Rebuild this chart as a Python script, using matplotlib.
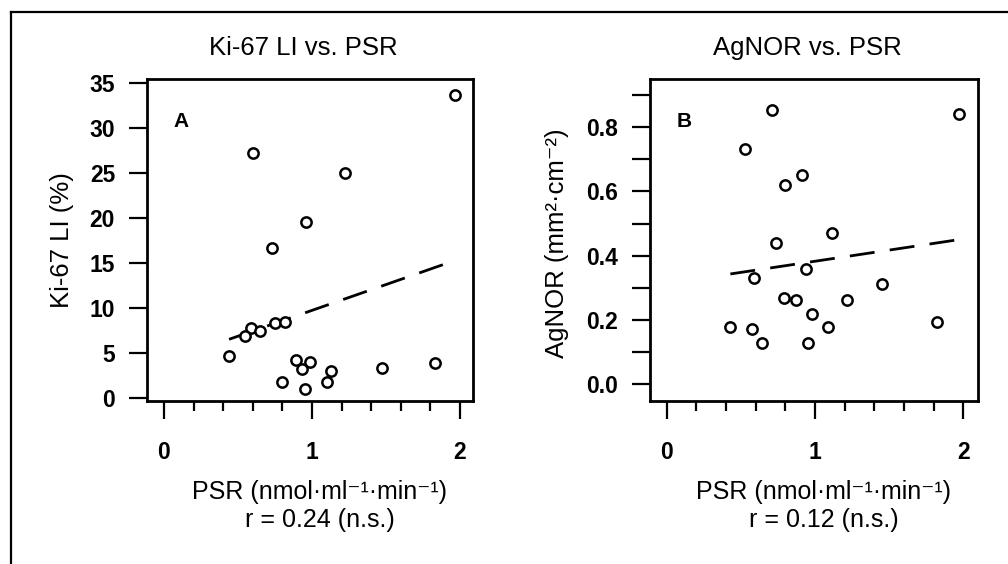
import numpy as np
import matplotlib
matplotlib.use('Agg')
import matplotlib.pyplot as plt
from matplotlib.lines import Line2D
from matplotlib.ticker import MultipleLocator, FormatStrFormatter

plt.rcParams['font.family'] = ['Liberation Sans', 'DejaVu Sans']

# data
psr_a = [1.97, 0.60, 1.22, 0.96, 0.73, 0.59, 0.545, 0.65, 0.75, 0.82,
         0.44, 0.89, 0.985, 0.93, 0.80, 0.955, 1.10, 1.13, 1.47, 1.83]
ki67 = [33.7, 27.2, 25.0, 19.5, 16.7, 7.8, 6.9, 7.4, 8.3, 8.5,
        4.7, 4.2, 3.95, 3.2, 1.75, 1.05, 1.75, 3.0, 3.3, 3.85]

psr_b = [0.71, 1.97, 0.53, 0.915, 0.80, 0.74, 1.115, 0.94, 0.59, 1.455,
         0.79, 0.875, 1.215, 0.98, 0.43, 0.575, 0.64, 0.955, 1.085, 1.82]
agnor = [0.852, 0.842, 0.731, 0.652, 0.621, 0.441, 0.471, 0.360, 0.331, 0.311,
         0.269, 0.262, 0.262, 0.220, 0.179, 0.171, 0.129, 0.129, 0.179, 0.193]

# regression lines (intercept, slope) and where they end
ki67_fit = [4.0, 5.735]
agnor_fit = [0.3134, 0.0694]
fit_end = 1.94

titles = ['Ki-67 LI vs. PSR', 'AgNOR vs. PSR']
ylabels = ['Ki-67 LI (%)', 'AgNOR (mm²·cm⁻²)']
r_texts = ['r = 0.24 (n.s.)', 'r = 0.12 (n.s.)']
letters = ['A', 'B']
xlabel = 'PSR (nmol·ml⁻¹·min⁻¹)'

fig = plt.figure(figsize=(10.08, 5.64), dpi=100)
axA = fig.add_axes([0.1458, 0.289, 0.3234, 0.571])
axB = fig.add_axes([0.6448, 0.289, 0.3254, 0.571])

# outer frame (only top and left edge show)
fig.add_artist(Line2D([0.0114, 0.0114], [0, 0.978], transform=fig.transFigure, color='black', lw=1.6))
fig.add_artist(Line2D([0.0114, 1], [0.978, 0.978], transform=fig.transFigure, color='black', lw=1.6))


def draw(ax, x, y, fit, i):
    ax.plot(x, y, 'o', ms=7.4, mfc='white', mec='black', mew=1.8, zorder=3)
    xs = np.array([min(x), fit_end])
    ax.plot(xs, fit[0] + fit[1] * xs, color='black', lw=2, dashes=(9, 5.5), zorder=2)
    for s in ax.spines.values():
        s.set_linewidth(2)
    ax.xaxis.set_major_locator(MultipleLocator(1))
    ax.xaxis.set_minor_locator(MultipleLocator(0.2))
    ax.tick_params(axis='x', which='major', length=13, width=1.6, pad=16, labelsize=16.5)
    ax.tick_params(axis='x', which='minor', length=7, width=1.6)
    ax.tick_params(axis='y', which='both', length=13, width=1.6, pad=10, labelsize=16.5)
    ax.text(0.48, 1.096, titles[i], transform=ax.transAxes, ha='center', va='center', fontsize=18.5)
    ax.text(0.53, -0.283, xlabel, transform=ax.transAxes, ha='center', va='center', fontsize=18)
    ax.text(0.53, -0.370, r_texts[i], transform=ax.transAxes, ha='center', va='center', fontsize=18)
    ax.text(0.105, 0.868, letters[i], transform=ax.transAxes, ha='center', va='center',
            fontsize=15, fontweight='bold')


draw(axA, psr_a, ki67, ki67_fit, 0)
axA.set_xlim(-0.115, 2.088)
axA.set_ylim(-0.33, 35.44)
axA.yaxis.set_major_locator(MultipleLocator(5))
axA.text(-0.261, 0.5, ylabels[0], transform=axA.transAxes, rotation=90,
         ha='center', va='center', fontsize=18.5)

draw(axB, psr_b, agnor, agnor_fit, 1)
axB.set_xlim(-0.112, 2.099)
axB.set_ylim(-0.052, 0.95)
axB.yaxis.set_major_locator(MultipleLocator(0.2))
axB.yaxis.set_minor_locator(MultipleLocator(0.1))
axB.yaxis.set_major_formatter(FormatStrFormatter('%.1f'))
axB.text(-0.284, 0.49, ylabels[1], transform=axB.transAxes, rotation=90,
         ha='center', va='center', fontsize=18.5)

for ax in (axA, axB):
    for lab in ax.get_xticklabels() + ax.get_yticklabels():
        lab.set_fontweight('bold')

fig.savefig('out.png', dpi=100)
